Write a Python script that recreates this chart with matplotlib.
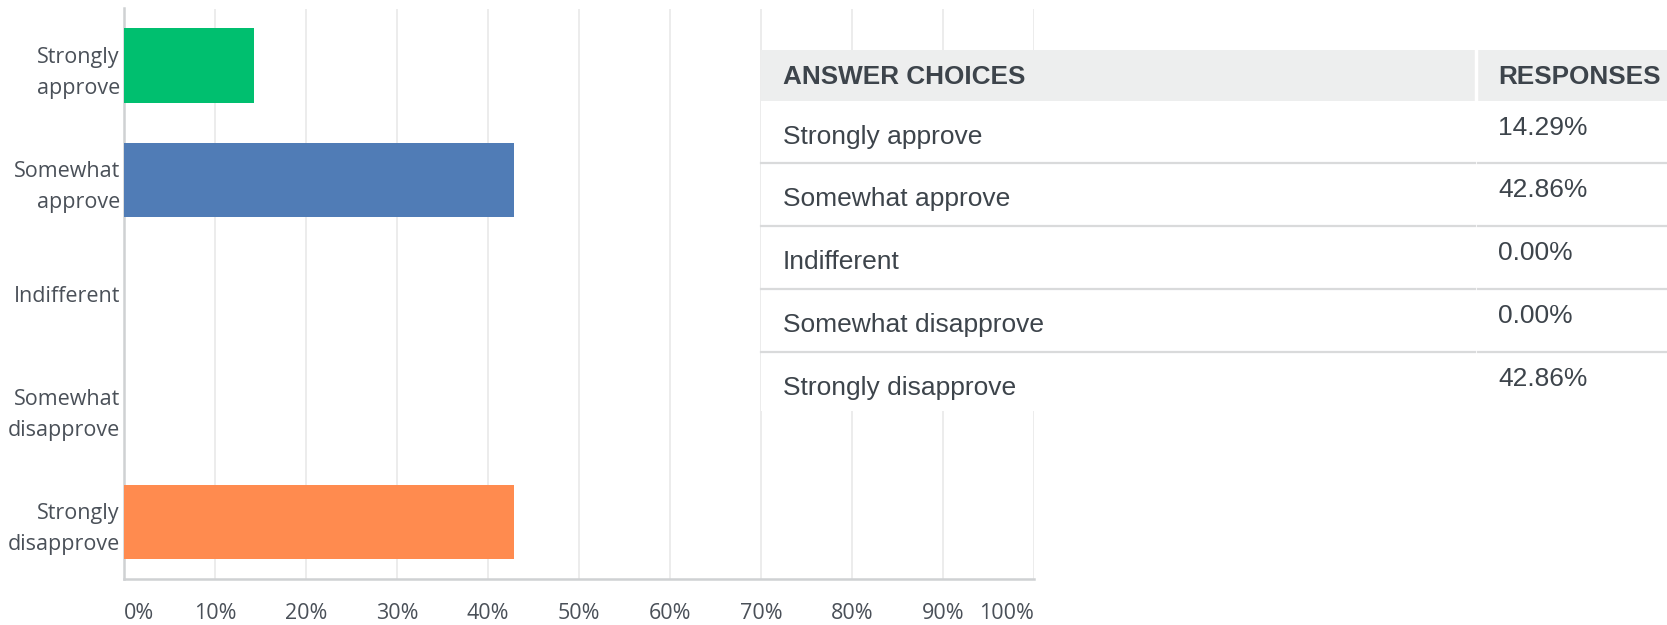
import matplotlib
matplotlib.use("Agg")
import matplotlib.pyplot as plt
from matplotlib.patches import Rectangle

# ---- data ----
categories = ["Strongly\napprove", "Somewhat\napprove", "Indifferent",
              "Somewhat\ndisapprove", "Strongly\ndisapprove"]
table_labels = ["Strongly approve", "Somewhat approve", "Indifferent",
                "Somewhat disapprove", "Strongly disapprove"]
values = [14.29, 42.86, 0.00, 0.00, 42.86]
bar_colors = ["#00bf6f", "#507cb6", "#6bc8cd", "#f9be00", "#ff8b4f"]
x_ticks = [0, 10, 20, 30, 40, 50, 60, 70, 80, 90, 100]
x_ticklabels = ["0%", "10%", "20%", "30%", "40%", "50%", "60%", "70%", "80%", "90%", "100%"]
header = ["ANSWER CHOICES", "RESPONSES"]

W, H = 1667, 625
fig = plt.figure(figsize=(W / 100, H / 100), dpi=100)
fig.patch.set_facecolor("white")

# chart axes (pixel placement)
ax_l, ax_r, ax_t, ax_b = 124, 1034, 8.5, 579
ax = fig.add_axes([ax_l / W, 1 - ax_b / H, (ax_r - ax_l) / W, (ax_b - ax_t) / H])
ypos = list(range(len(categories)))
ax.barh(ypos, values, height=0.65, color=bar_colors, zorder=3)
ax.set_xlim(0, 100)
ax.set_ylim(len(categories) - 0.5, -0.5)
ax.set_xticks(x_ticks)
ax.set_xticklabels(x_ticklabels, fontsize=15.5, family="Open Sans", color="#4a5058")
ax.set_yticks(ypos)
ax.set_yticklabels(categories, fontsize=15.5, family="Open Sans", color="#4a5058",
                   linespacing=1.6)
ax.tick_params(axis="both", length=0)
ax.tick_params(axis="y", pad=3)
ax.tick_params(axis="x", pad=17)
tl = ax.get_xticklabels()
tl[0].set_ha("left")
tl[-1].set_ha("right")
ax.grid(axis="x", color="#e9e9e9", linewidth=1.2, zorder=0)
ax.set_axisbelow(True)
for s in ["top", "right"]:
    ax.spines[s].set_visible(False)
for s in ["left", "bottom"]:
    ax.spines[s].set_color("#cfd1d3")
    ax.spines[s].set_linewidth(1.8)

# table overlay in pixel coordinates
tx = fig.add_axes([0, 0, 1, 1])
tx.set_xlim(0, W)
tx.set_ylim(H, 0)
tx.axis("off")
tx.patch.set_visible(False)

t_left, t_top, t_bottom = 761, 50, 411
header_bottom = 101
col_sep = 1475
row_tops = [101, 163, 226, 289, 352]

tx.add_patch(Rectangle((t_left, t_top), W - t_left, t_bottom - t_top,
                       facecolor="white", edgecolor="none", zorder=1))
tx.add_patch(Rectangle((t_left, t_top), W - t_left, header_bottom - t_top,
                       facecolor="#edeeee", edgecolor="none", zorder=2))
tx.plot([col_sep + 1, col_sep + 1], [t_top, header_bottom], color="white",
        linewidth=2.5, zorder=3)
for rt in row_tops[1:]:
    tx.plot([t_left, col_sep], [rt, rt], color="#d9dadb", linewidth=1.6, zorder=3)
    tx.plot([col_sep + 3, W], [rt, rt], color="#d9dadb", linewidth=1.6, zorder=3)

tcolor = "#3d444b"
tfont = "Liberation Sans"
tx.text(783, 84, header[0], fontsize=18.8, fontweight="bold", family=tfont,
        color=tcolor, va="baseline", ha="left", zorder=4)
tx.text(1498, 84, header[1], fontsize=18.8, fontweight="bold", family=tfont,
        color=tcolor, va="baseline", ha="left", zorder=4)
for rt, lab, v in zip(row_tops, table_labels, values):
    tx.text(783, rt + 43, lab, fontsize=19, family=tfont, color=tcolor,
            va="baseline", ha="left", zorder=4)
    tx.text(1498, rt + 34, f"{v:.2f}%", fontsize=19, family=tfont, color=tcolor,
            va="baseline", ha="left", zorder=4)

fig.savefig("out.png", dpi=100, facecolor="white")
